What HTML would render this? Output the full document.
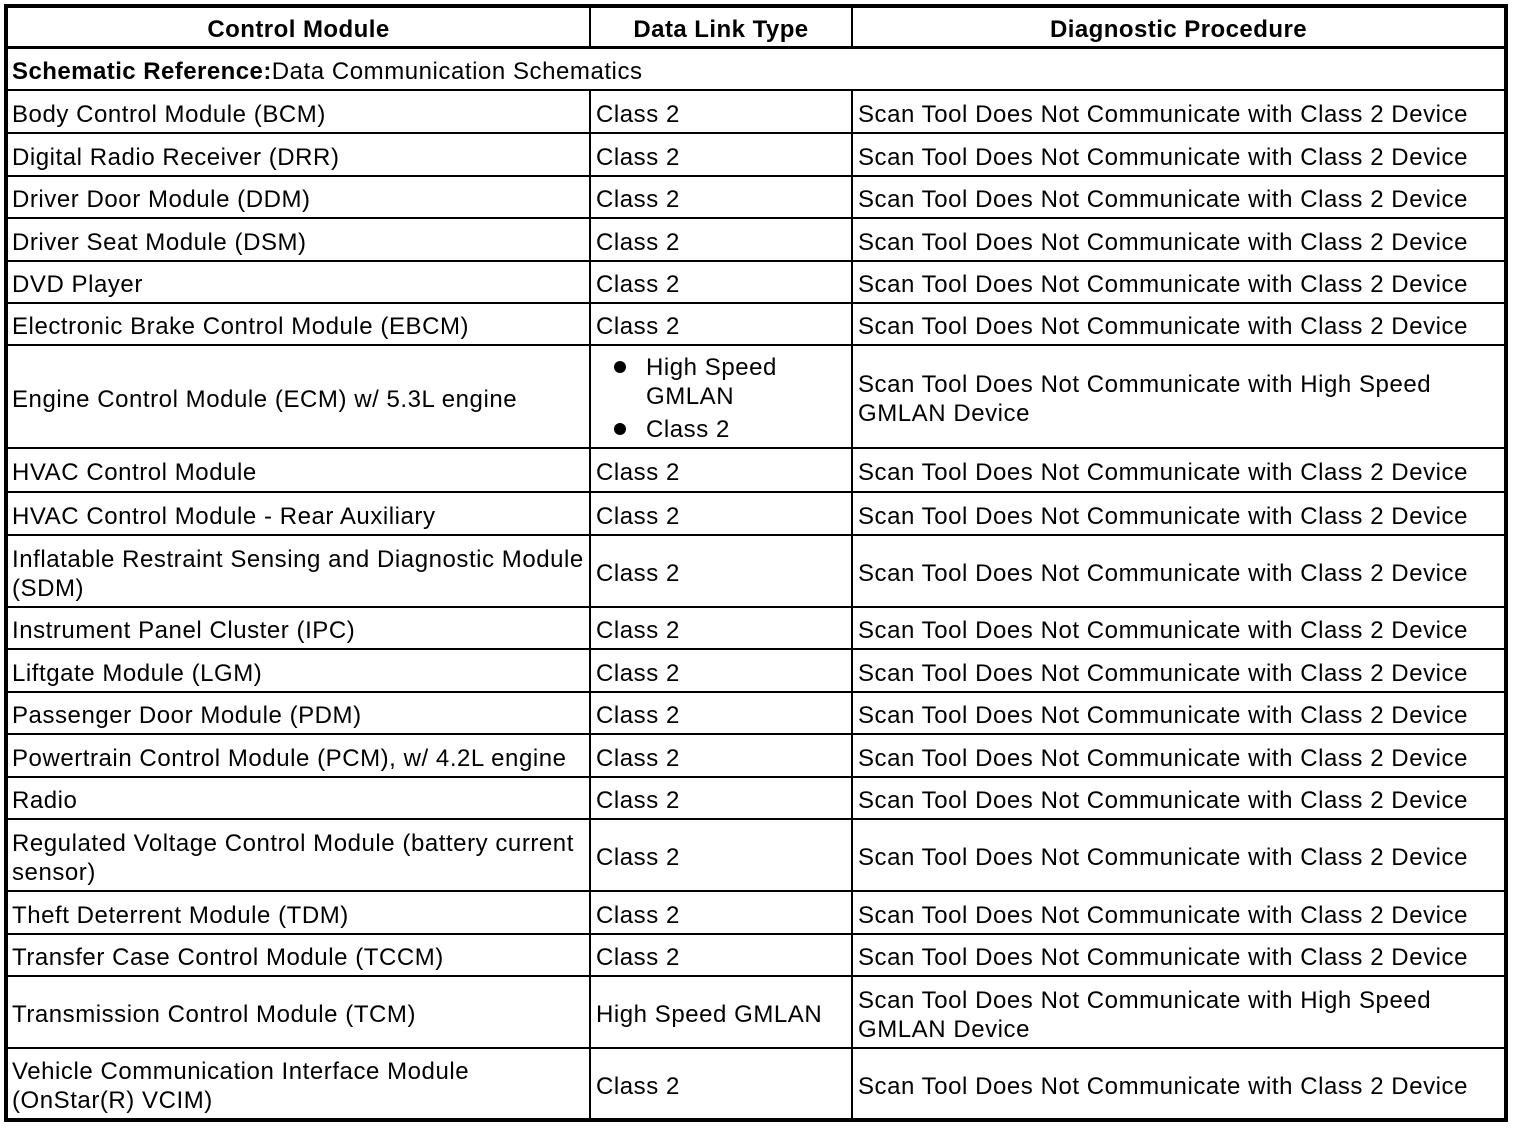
<!DOCTYPE html>
<html>
<head>
<meta charset="utf-8">
<style>
html,body{margin:0;padding:0;background:#fff;}
body{width:1520px;height:1128px;position:relative;overflow:hidden;font-family:"Liberation Sans",Arial,Helvetica,sans-serif;color:#000;}
.l{position:absolute;background:#000;}
.c{position:absolute;display:flex;align-items:center;white-space:nowrap;font-size:24px;letter-spacing:0.55px;line-height:29px;box-sizing:border-box;padding-top:5px;}
.h{font-weight:bold;justify-content:center;letter-spacing:0.45px;}
.t{position:absolute;white-space:nowrap;font-size:24px;letter-spacing:0.55px;line-height:29px;}
.b{position:absolute;width:12px;height:12px;border-radius:50%;background:#000;}
</style>
</head>
<body>
<!-- outer border -->
<div class="l" style="left:4px;top:4px;width:1504px;height:4px;"></div>
<div class="l" style="left:4px;top:1118px;width:1504px;height:4px;"></div>
<div class="l" style="left:4px;top:4px;width:4px;height:1118px;"></div>
<div class="l" style="left:1504px;top:4px;width:4px;height:1118px;"></div>
<!-- header line -->
<div class="l" style="left:4px;top:46px;width:1504px;height:3px;"></div>
<!-- column lines -->
<div class="l" style="left:589px;top:8px;width:2px;height:38px;"></div>
<div class="l" style="left:851px;top:8px;width:2px;height:38px;"></div>
<div class="l" style="left:589px;top:89px;width:2px;height:1029px;"></div>
<div class="l" style="left:851px;top:89px;width:2px;height:1029px;"></div>
<!-- row lines -->
<div class="l" style="left:4px;top:89px;width:1504px;height:2px;"></div>
<div class="l" style="left:4px;top:132px;width:1504px;height:2px;"></div>
<div class="l" style="left:4px;top:175px;width:1504px;height:2px;"></div>
<div class="l" style="left:4px;top:217px;width:1504px;height:2px;"></div>
<div class="l" style="left:4px;top:260px;width:1504px;height:2px;"></div>
<div class="l" style="left:4px;top:302px;width:1504px;height:2px;"></div>
<div class="l" style="left:4px;top:344px;width:1504px;height:2px;"></div>
<div class="l" style="left:4px;top:447px;width:1504px;height:2px;"></div>
<div class="l" style="left:4px;top:491px;width:1504px;height:2px;"></div>
<div class="l" style="left:4px;top:534px;width:1504px;height:2px;"></div>
<div class="l" style="left:4px;top:606px;width:1504px;height:2px;"></div>
<div class="l" style="left:4px;top:648px;width:1504px;height:2px;"></div>
<div class="l" style="left:4px;top:691px;width:1504px;height:2px;"></div>
<div class="l" style="left:4px;top:733px;width:1504px;height:2px;"></div>
<div class="l" style="left:4px;top:776px;width:1504px;height:2px;"></div>
<div class="l" style="left:4px;top:818px;width:1504px;height:2px;"></div>
<div class="l" style="left:4px;top:890px;width:1504px;height:2px;"></div>
<div class="l" style="left:4px;top:933px;width:1504px;height:2px;"></div>
<div class="l" style="left:4px;top:975px;width:1504px;height:2px;"></div>
<div class="l" style="left:4px;top:1047px;width:1504px;height:2px;"></div>

<!-- header -->
<div class="c h" style="left:8px;top:8px;width:581px;height:38px;">Control Module</div>
<div class="c h" style="left:591px;top:8px;width:260px;height:38px;">Data Link Type</div>
<div class="c h" style="left:853px;top:8px;width:651px;height:38px;">Diagnostic Procedure</div>

<div class="c" style="left:12px;top:49px;width:1490px;height:40px;"><b style="letter-spacing:0.45px">Schematic Reference:</b>Data Communication Schematics</div>

<!-- rows -->
<div class="c" style="left:12px;top:91px;width:576px;height:41px;">Body Control Module (BCM)</div>
<div class="c" style="left:596px;top:91px;width:254px;height:41px;">Class 2</div>
<div class="c" style="left:858px;top:91px;width:645px;height:41px;">Scan Tool Does Not Communicate with Class 2 Device</div>

<div class="c" style="left:12px;top:134px;width:576px;height:41px;">Digital Radio Receiver (DRR)</div>
<div class="c" style="left:596px;top:134px;width:254px;height:41px;">Class 2</div>
<div class="c" style="left:858px;top:134px;width:645px;height:41px;">Scan Tool Does Not Communicate with Class 2 Device</div>

<div class="c" style="left:12px;top:177px;width:576px;height:40px;">Driver Door Module (DDM)</div>
<div class="c" style="left:596px;top:177px;width:254px;height:40px;">Class 2</div>
<div class="c" style="left:858px;top:177px;width:645px;height:40px;">Scan Tool Does Not Communicate with Class 2 Device</div>

<div class="c" style="left:12px;top:219px;width:576px;height:41px;">Driver Seat Module (DSM)</div>
<div class="c" style="left:596px;top:219px;width:254px;height:41px;">Class 2</div>
<div class="c" style="left:858px;top:219px;width:645px;height:41px;">Scan Tool Does Not Communicate with Class 2 Device</div>

<div class="c" style="left:12px;top:262px;width:576px;height:40px;">DVD Player</div>
<div class="c" style="left:596px;top:262px;width:254px;height:40px;">Class 2</div>
<div class="c" style="left:858px;top:262px;width:645px;height:40px;">Scan Tool Does Not Communicate with Class 2 Device</div>

<div class="c" style="left:12px;top:304px;width:576px;height:40px;">Electronic Brake Control Module (EBCM)</div>
<div class="c" style="left:596px;top:304px;width:254px;height:40px;">Class 2</div>
<div class="c" style="left:858px;top:304px;width:645px;height:40px;">Scan Tool Does Not Communicate with Class 2 Device</div>

<!-- ECM -->
<div class="c" style="left:12px;top:346px;width:576px;height:101px;">Engine Control Module (ECM) w/ 5.3L engine</div>
<div class="b" style="left:614px;top:361px;"></div>
<div class="t" style="left:646px;top:353px;">High Speed</div>
<div class="t" style="left:646px;top:382px;">GMLAN</div>
<div class="b" style="left:614px;top:423px;"></div>
<div class="t" style="left:646px;top:415px;">Class 2</div>
<div class="c" style="left:858px;top:346px;width:645px;height:101px;">Scan Tool Does Not Communicate with High Speed<br>GMLAN Device</div>

<div class="c" style="left:12px;top:449px;width:576px;height:42px;">HVAC Control Module</div>
<div class="c" style="left:596px;top:449px;width:254px;height:42px;">Class 2</div>
<div class="c" style="left:858px;top:449px;width:645px;height:42px;">Scan Tool Does Not Communicate with Class 2 Device</div>

<div class="c" style="left:12px;top:493px;width:576px;height:41px;">HVAC Control Module - Rear Auxiliary</div>
<div class="c" style="left:596px;top:493px;width:254px;height:41px;">Class 2</div>
<div class="c" style="left:858px;top:493px;width:645px;height:41px;">Scan Tool Does Not Communicate with Class 2 Device</div>

<div class="c" style="left:12px;top:536px;width:577px;height:70px;">Inflatable Restraint Sensing and Diagnostic Module<br>(SDM)</div>
<div class="c" style="left:596px;top:536px;width:254px;height:70px;">Class 2</div>
<div class="c" style="left:858px;top:536px;width:645px;height:70px;">Scan Tool Does Not Communicate with Class 2 Device</div>

<div class="c" style="left:12px;top:608px;width:576px;height:40px;">Instrument Panel Cluster (IPC)</div>
<div class="c" style="left:596px;top:608px;width:254px;height:40px;">Class 2</div>
<div class="c" style="left:858px;top:608px;width:645px;height:40px;">Scan Tool Does Not Communicate with Class 2 Device</div>

<div class="c" style="left:12px;top:650px;width:576px;height:41px;">Liftgate Module (LGM)</div>
<div class="c" style="left:596px;top:650px;width:254px;height:41px;">Class 2</div>
<div class="c" style="left:858px;top:650px;width:645px;height:41px;">Scan Tool Does Not Communicate with Class 2 Device</div>

<div class="c" style="left:12px;top:693px;width:576px;height:40px;">Passenger Door Module (PDM)</div>
<div class="c" style="left:596px;top:693px;width:254px;height:40px;">Class 2</div>
<div class="c" style="left:858px;top:693px;width:645px;height:40px;">Scan Tool Does Not Communicate with Class 2 Device</div>

<div class="c" style="left:12px;top:735px;width:576px;height:41px;">Powertrain Control Module (PCM), w/ 4.2L engine</div>
<div class="c" style="left:596px;top:735px;width:254px;height:41px;">Class 2</div>
<div class="c" style="left:858px;top:735px;width:645px;height:41px;">Scan Tool Does Not Communicate with Class 2 Device</div>

<div class="c" style="left:12px;top:778px;width:576px;height:40px;">Radio</div>
<div class="c" style="left:596px;top:778px;width:254px;height:40px;">Class 2</div>
<div class="c" style="left:858px;top:778px;width:645px;height:40px;">Scan Tool Does Not Communicate with Class 2 Device</div>

<div class="c" style="left:12px;top:820px;width:576px;height:70px;">Regulated Voltage Control Module (battery current<br>sensor)</div>
<div class="c" style="left:596px;top:820px;width:254px;height:70px;">Class 2</div>
<div class="c" style="left:858px;top:820px;width:645px;height:70px;">Scan Tool Does Not Communicate with Class 2 Device</div>

<div class="c" style="left:12px;top:892px;width:576px;height:41px;">Theft Deterrent Module (TDM)</div>
<div class="c" style="left:596px;top:892px;width:254px;height:41px;">Class 2</div>
<div class="c" style="left:858px;top:892px;width:645px;height:41px;">Scan Tool Does Not Communicate with Class 2 Device</div>

<div class="c" style="left:12px;top:935px;width:576px;height:40px;">Transfer Case Control Module (TCCM)</div>
<div class="c" style="left:596px;top:935px;width:254px;height:40px;">Class 2</div>
<div class="c" style="left:858px;top:935px;width:645px;height:40px;">Scan Tool Does Not Communicate with Class 2 Device</div>

<div class="c" style="left:12px;top:977px;width:576px;height:70px;">Transmission Control Module (TCM)</div>
<div class="c" style="left:596px;top:977px;width:254px;height:70px;">High Speed GMLAN</div>
<div class="c" style="left:858px;top:977px;width:645px;height:70px;">Scan Tool Does Not Communicate with High Speed<br>GMLAN Device</div>

<div class="c" style="left:12px;top:1049px;width:576px;height:69px;">Vehicle Communication Interface Module<br>(OnStar(R) VCIM)</div>
<div class="c" style="left:596px;top:1049px;width:254px;height:69px;">Class 2</div>
<div class="c" style="left:858px;top:1049px;width:645px;height:69px;">Scan Tool Does Not Communicate with Class 2 Device</div>
</body>
</html>
